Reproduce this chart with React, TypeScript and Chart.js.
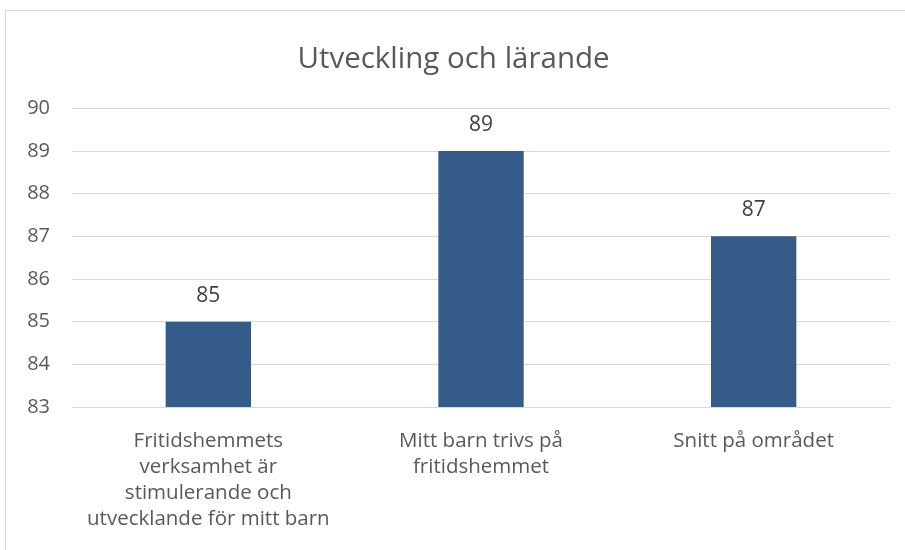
import React, { useEffect, useRef } from "react";
import { Chart, registerables } from "chart.js";

Chart.register(...registerables);

const chartTitle = "Utveckling och lärande";
const categories: string[][] = [
  ["Fritidshemmets", "verksamhet är", "stimulerande och", "utvecklande för mitt barn"],
  ["Mitt barn trivs på", "fritidshemmet"],
  ["Snitt på området"],
];
const values: number[] = [85, 89, 87];
const yMin = 83;
const yMax = 90;
const yStep = 1;

const FONT = "'Open Sans', sans-serif";
const TEXT = "#595959";
const BAR = "#355B88";
const GRID = "#D9D9D9";

const valueLabels = {
  id: "valueLabels",
  afterDatasetsDraw(chart: any) {
    const ctx = chart.ctx;
    const meta = chart.getDatasetMeta(0);
    ctx.save();
    ctx.font = `21px ${FONT}`;
    ctx.fillStyle = "#404040";
    ctx.textAlign = "center";
    ctx.textBaseline = "middle";
    meta.data.forEach((el: any, i: number) => {
      const v = chart.data.datasets[0].data[i];
      ctx.fillText(String(v), el.x, el.y - 26);
    });
    ctx.restore();
  },
};

export default function App() {
  const ref = useRef<HTMLCanvasElement | null>(null);
  useEffect(() => {
    if (!ref.current) return;
    const chart = new Chart(ref.current, {
      type: "bar",
      data: {
        labels: categories,
        datasets: [
          {
            data: values,
            backgroundColor: BAR,
            barPercentage: 0.313,
            categoryPercentage: 1,
          },
        ],
      },
      options: {
        responsive: false,
        animation: false,
        events: [],
        layout: { padding: { left: 17, right: 15, top: 0, bottom: 0 } },
        plugins: {
          legend: { display: false },
          tooltip: { enabled: false },
          title: {
            display: true,
            text: chartTitle,
            color: TEXT,
            font: { family: FONT, size: 29.5, weight: "normal", lineHeight: 1.2 },
            padding: { top: 42, bottom: 31 },
          },
        },
        scales: {
          x: {
            grid: { display: false, drawTicks: false },
            border: { display: true, color: GRID, width: 1 },
            ticks: {
              color: TEXT,
              font: { family: FONT, size: 20.5, lineHeight: 1.27 },
              padding: 21,
              maxRotation: 0,
              autoSkip: false,
            },
            afterFit: (s: any) => {
              s.height = 143;
            },
          },
          y: {
            min: yMin,
            max: yMax,
            grid: { color: GRID, drawTicks: false },
            border: { display: false },
            ticks: {
              stepSize: yStep,
              color: TEXT,
              font: { family: FONT, size: 20 },
              padding: 22,
            },
            afterFit: (s: any) => {
              s.width = 55;
            },
          },
        },
      },
      plugins: [valueLabels],
    });
    return () => chart.destroy();
  }, []);

  return (
    <div style={{ position: "absolute", left: 0, top: 0, width: 905, height: 550, background: "#fff" }}>
      <div
        style={{
          position: "absolute",
          left: 5,
          top: 10,
          width: 900,
          height: 540,
          borderLeft: `1px solid ${GRID}`,
          borderTop: `1px solid ${GRID}`,
        }}
      />
      <canvas ref={ref} width={905} height={550} style={{ position: "absolute", left: 0, top: 0, display: "block" }} />
    </div>
  );
}
